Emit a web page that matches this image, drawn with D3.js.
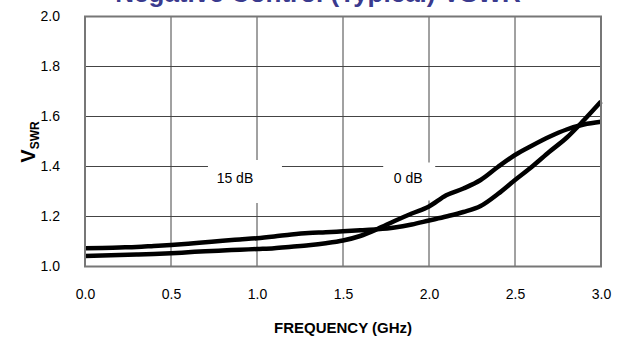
<!DOCTYPE html>
<html>
<head>
<meta charset="utf-8">
<script src="https://cdn.jsdelivr.net/npm/d3@7"></script>
<style>
  html, body { margin: 0; padding: 0; background: #fff; }
  svg { display: block; font-family: "Liberation Sans", Arial, sans-serif; }
</style>
</head>
<body>
<svg id="chart" width="628" height="339"></svg>
<script>
// ---- data ----
const frequencies = [0.0,0.1,0.2,0.3,0.4,0.5,0.6,0.7,0.8,0.9,1.0,1.1,1.2,1.3,1.4,1.5,1.6,1.7,1.8,1.9,2.0,2.1,2.2,2.3,2.4,2.5,2.6,2.7,2.8,2.9,3.0];
const vswr15dB = [1.073,1.074,1.076,1.078,1.082,1.086,1.091,1.097,1.103,1.108,1.113,1.120,1.128,1.134,1.137,1.141,1.145,1.149,1.156,1.168,1.184,1.200,1.218,1.242,1.290,1.346,1.400,1.459,1.515,1.585,1.660];
const vswr0dB  = [1.042,1.044,1.046,1.048,1.050,1.053,1.057,1.061,1.064,1.067,1.070,1.073,1.079,1.085,1.093,1.104,1.122,1.150,1.182,1.212,1.240,1.285,1.312,1.346,1.398,1.446,1.484,1.519,1.548,1.568,1.579];
const xTicks = [0.0,0.5,1.0,1.5,2.0,2.5,3.0];
const yTicks = [1.0,1.2,1.4,1.6,1.8,2.0];
const curveLabels = ["15 dB", "0 dB"];
const labelFreq = [0.93, 1.885];
const labelVswr = [1.34, 1.34];
const titleText = "Negative Control (Typical) VSWR";

// ---- layout ----
const svg = d3.select("#chart");
const x = d3.scaleLinear().domain([0, 3]).range([85, 601]);
const y = d3.scaleLinear().domain([1, 2]).range([266.5, 16.5]);

// title (cut off at top, as in reference)
svg.append("text")
  .attr("x", 318).attr("y", 2)
  .attr("text-anchor", "middle")
  .attr("font-size", 26).attr("font-weight", "bold")
  .attr("fill", "#3a3a8e")
  .text(titleText);

// grid
const grid = svg.append("g");
grid.selectAll("line.v").data(xTicks.slice(1, -1)).join("line")
  .attr("x1", d => x(d)).attr("x2", d => x(d))
  .attr("y1", y(2)).attr("y2", y(1))
  .attr("stroke", "#444").attr("stroke-width", 1);
grid.selectAll("line.h").data(yTicks.slice(1, -1)).join("line")
  .attr("x1", x(0)).attr("x2", x(3))
  .attr("y1", d => y(d)).attr("y2", d => y(d))
  .attr("stroke", "#444").attr("stroke-width", 1);

// label backgrounds (white boxes interrupting grid)
const boxW = [74, 52], boxH = [43, 38];
curveLabels.forEach((t, i) => {
  const cx = x(labelFreq[i]), cy = y(labelVswr[i]);
  svg.append("rect")
    .attr("x", cx - boxW[i] / 2).attr("y", cy - boxH[i] / 2)
    .attr("width", boxW[i]).attr("height", boxH[i])
    .attr("fill", "#fff");
});

// curves
const line = d3.line()
  .x((d, i) => x(frequencies[i]))
  .y(d => y(d))
  .curve(d3.curveMonotoneX);
[vswr15dB, vswr0dB].forEach(series => {
  svg.append("path")
    .attr("d", line(series))
    .attr("fill", "none")
    .attr("stroke", "#000")
    .attr("stroke-width", 4.5)
    .attr("stroke-linejoin", "round");
});

// curve labels
const labelDx = [-10, -1];
curveLabels.forEach((t, i) => {
  svg.append("text")
    .attr("x", x(labelFreq[i]) + labelDx[i])
    .attr("y", y(labelVswr[i]) + 1)
    .attr("text-anchor", "middle")
    .attr("font-size", 14).attr("fill", "#000")
    .text(t);
});

// frame
svg.append("rect")
  .attr("x", x(0)).attr("y", y(2))
  .attr("width", x(3) - x(0)).attr("height", y(1) - y(2))
  .attr("fill", "none").attr("stroke", "#777").attr("stroke-width", 2);

// axes
const xAxis = svg.append("g").attr("transform", `translate(0,${y(1)})`)
  .call(d3.axisBottom(x).tickValues(xTicks).tickFormat(d3.format(".1f")).tickSize(0).tickPadding(23));
xAxis.select(".domain").remove();
xAxis.selectAll("text").attr("font-size", 14).attr("fill", "#000")
  .attr("font-family", "Liberation Sans, Arial, sans-serif");

const yAxis = svg.append("g").attr("transform", `translate(${x(0)},0)`)
  .call(d3.axisLeft(y).tickValues(yTicks).tickFormat(d3.format(".1f")).tickSize(0).tickPadding(25));
yAxis.select(".domain").remove();
yAxis.selectAll("text").attr("font-size", 14).attr("fill", "#000")
  .attr("font-family", "Liberation Sans, Arial, sans-serif");

// axis titles
svg.append("text")
  .attr("x", 343).attr("y", 333)
  .attr("text-anchor", "middle")
  .attr("font-size", 15).attr("font-weight", "bold")
  .text("FREQUENCY (GHz)");

const yl = svg.append("text")
  .attr("transform", "translate(35,142) rotate(-90)")
  .attr("text-anchor", "middle")
  .attr("font-weight", "bold");
yl.append("tspan").attr("font-size", 20).text("V");
yl.append("tspan").attr("font-size", 12).attr("dy", 4).text("SWR");
</script>
</body>
</html>
